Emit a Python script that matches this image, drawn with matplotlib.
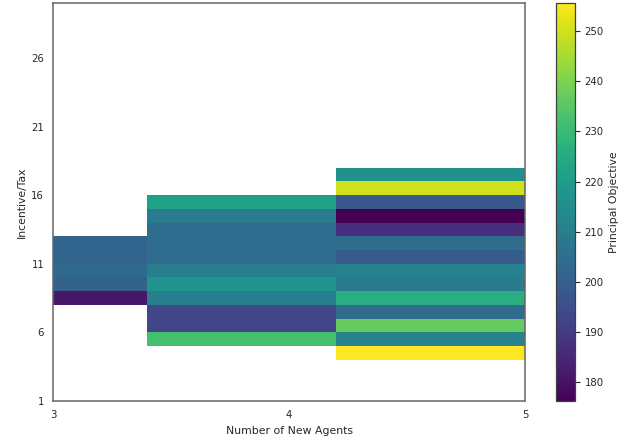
import numpy as np
import matplotlib
matplotlib.use("Agg")
import matplotlib.pyplot as plt
import seaborn as sns

sns.set_style("white")

# data
x_edges = [3.0, 3.4, 4.2, 5.0]
x_ticks = [3, 4, 5]
y_ticks = [1, 6, 11, 16, 21, 26]
cb_ticks = [180, 190, 200, 210, 220, 230, 240, 250]
# Principal objective per incentive/tax level (row lower edge) for each column
col3_levels = [8, 9, 10, 11, 12]
col3_values = [181, 201, 203, 202, 202]
col4_levels = [5, 6, 7, 8, 9, 10, 11, 12, 13, 14, 15]
col4_values = [232, 193, 193, 210, 217, 210, 204, 204, 204, 209, 222]
col5_levels = [4, 5, 6, 7, 8, 9, 10, 11, 12, 13, 14, 15, 16, 17]
col5_values = [255.6, 212, 237, 204, 226, 209, 211, 199, 204, 187, 176.3, 198, 250, 216]

y_edges = np.arange(1, 31)
C = np.full((len(y_edges) - 1, len(x_edges) - 1), np.nan)
for j, (lv, vals) in enumerate([(col3_levels, col3_values),
                                 (col4_levels, col4_values),
                                 (col5_levels, col5_values)]):
    for l, v in zip(lv, vals):
        C[l - 1, j] = v
Cm = np.ma.masked_invalid(C)

TICK_FS = 7.3
LABEL_FS = 7.8
TXT = "0.15"

fig = plt.figure(figsize=(6.38, 4.40), dpi=100)
ax = fig.add_axes([53/638, 39/440, 472/638, 398/440])
mesh = ax.pcolormesh(x_edges, y_edges, Cm, cmap="viridis",
                     vmin=176.3, vmax=255.6)
ax.set_xlim(3, 5)
ax.set_ylim(1, 30)
ax.set_xticks(x_ticks)
ax.set_yticks(y_ticks)
ax.tick_params(labelsize=TICK_FS, colors=TXT, length=0, pad=6.3)
ax.set_xlabel("Number of New Agents", fontsize=LABEL_FS, color=TXT, labelpad=4.5)
ax.set_ylabel("Incentive/Tax", fontsize=LABEL_FS, color=TXT, labelpad=3.5)
for s in ax.spines.values():
    s.set_color("0.4")
    s.set_linewidth(1.1)

cax = fig.add_axes([556/638, 39/440, 19/638, 398/440])
cb = fig.colorbar(mesh, cax=cax)
cb.set_ticks(cb_ticks)
cb.ax.tick_params(labelsize=TICK_FS, colors=TXT, length=3.8, width=0.8, pad=3)
cb.set_label("Principal Objective", fontsize=LABEL_FS, color=TXT, labelpad=3.5)
cb.outline.set_edgecolor("0.25")
cb.outline.set_linewidth(0.9)

fig.savefig("out.png", dpi=100)
